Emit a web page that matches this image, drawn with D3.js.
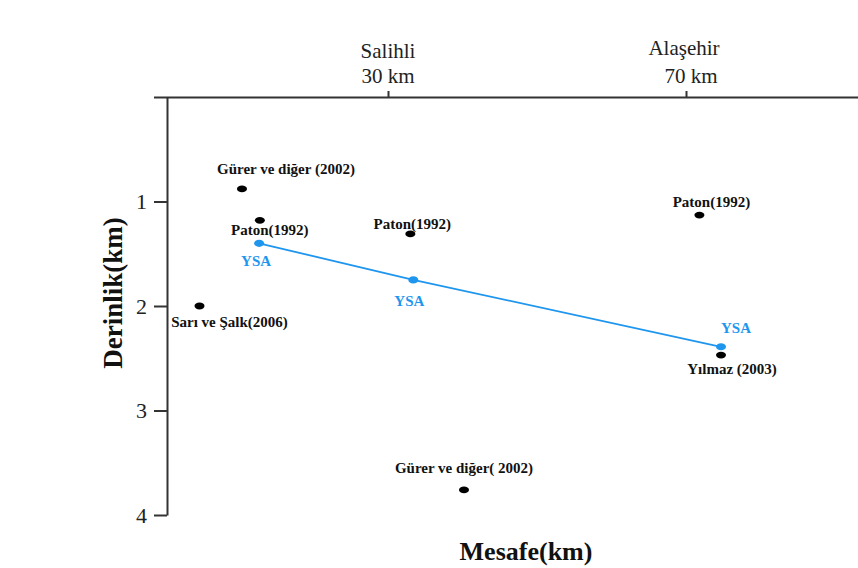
<!DOCTYPE html>
<html>
<head>
<meta charset="utf-8">
<script src="https://cdn.jsdelivr.net/npm/d3@7"></script>
<style>
  html, body { margin: 0; padding: 0; background: #fff; }
  svg { display: block; }
  svg text { font-family: "Liberation Serif", "Times New Roman", serif; }
</style>
</head>
<body>
<svg id="chart" width="858" height="568"></svg>
<script>
// Published depth estimates (distance along profile in km, depth in km)
const refNames = ["Gürer ve diğer (2002)", "Paton(1992)", "Sarı ve Şalk(2006)", "Paton(1992)",
                  "Paton(1992)", "Yılmaz (2003)", "Gürer ve diğer( 2002)"];
const refDistance = [10.4, 12.8, 4.7, 33.0, 71.8, 74.7, 40.2];
const refDepth = [0.88, 1.18, 2.0, 1.31, 1.13, 2.47, 3.76];

// Neural-network (YSA) depth estimates
const ysaNames = ["YSA", "YSA", "YSA"];
const ysaDistance = [12.7, 33.4, 74.7];
const ysaDepth = [1.40, 1.75, 2.39];

// Axis ticks
const depthTicks = [0, 1, 2, 3, 4];
const townTicks = [30, 70];
const townNames = ["Salihli", "Alaşehir"];
const townLabels = ["30 km", "70 km"];

const W = 858, H = 568;
const plotLeft = 167, plotTop = 97, plotBottom = 515;
const axisColor = "#333";
const blue = "#1f96ee";
const serif = "Liberation Serif, Times New Roman, serif";

const x = d3.scaleLinear().domain([30, 70]).range([388, 686]);
const y = d3.scaleLinear().domain([0, 4]).range([plotTop, plotBottom]);

const svg = d3.select("#chart");

// Left depth axis
const yAxis = svg.append("g")
  .attr("transform", `translate(${plotLeft},0)`)
  .call(d3.axisLeft(y).tickValues(depthTicks).tickSize(13).tickSizeOuter(0)
    .tickFormat(d => d === 0 ? "" : d3.format("d")(d)).tickPadding(7))
  .attr("font-family", serif);
yAxis.select(".domain").attr("stroke", axisColor).attr("stroke-width", 2);
yAxis.selectAll(".tick line").attr("stroke", axisColor).attr("stroke-width", 2);
yAxis.selectAll(".tick text").attr("font-size", 22).attr("fill", "#222").attr("dy", "0.34em");

// Top distance axis (town markers)
const xAxis = svg.append("g")
  .attr("transform", `translate(0,${plotTop})`)
  .call(d3.axisTop(x).tickValues(townTicks).tickSize(6).tickSizeOuter(0).tickFormat(""));
xAxis.select(".domain").attr("d", `M${plotLeft},0.5H${W}`)
  .attr("stroke", axisColor).attr("stroke-width", 2);
xAxis.selectAll(".tick line").attr("stroke", axisColor).attr("stroke-width", 2);

const townLayout = [{dx: 0, nameY: 58, distDx: 0}, {dx: -2, nameY: 55, distDx: 5}];
townTicks.forEach((t, i) => {
  const g = svg.append("g").attr("font-family", serif).attr("font-size", 21)
    .attr("fill", "#222").attr("text-anchor", "middle");
  g.append("text").attr("x", x(t) + townLayout[i].dx).attr("y", townLayout[i].nameY).text(townNames[i]);
  g.append("text").attr("x", x(t) + townLayout[i].distDx).attr("y", 83).text(townLabels[i]);
});

// YSA profile line
const ysaPts = ysaDistance.map((d, i) => [x(d), y(ysaDepth[i])]);
svg.append("path")
  .attr("d", d3.line()(ysaPts))
  .attr("fill", "none").attr("stroke", blue).attr("stroke-width", 1.8);

// Reference points
svg.append("g").selectAll("ellipse").data(refDistance).join("ellipse")
  .attr("cx", d => x(d)).attr("cy", (d, i) => y(refDepth[i]))
  .attr("rx", 5).attr("ry", 3.4).attr("fill", "#000");

// YSA points
svg.append("g").selectAll("ellipse").data(ysaDistance).join("ellipse")
  .attr("cx", d => x(d)).attr("cy", (d, i) => y(ysaDepth[i]))
  .attr("rx", 5).attr("ry", 3.6).attr("fill", blue);

// Label offsets from each point (centre x, baseline)
const refOffsets = [[44, -15], [10, 15], [30, 21], [2, -5], [12, -8], [11, 19], [0, -17]];
const ysaOffsets = [[-3, 23], [-4, 26], [15, -14]];

svg.append("g").selectAll("text").data(refNames).join("text")
  .attr("x", (d, i) => x(refDistance[i]) + refOffsets[i][0])
  .attr("y", (d, i) => y(refDepth[i]) + refOffsets[i][1])
  .attr("text-anchor", "middle").attr("font-size", 15).attr("font-weight", "bold")
  .attr("font-family", serif).attr("fill", "#111").text(d => d);

svg.append("g").selectAll("text").data(ysaNames).join("text")
  .attr("x", (d, i) => x(ysaDistance[i]) + ysaOffsets[i][0])
  .attr("y", (d, i) => y(ysaDepth[i]) + ysaOffsets[i][1])
  .attr("text-anchor", "middle").attr("font-size", 15).attr("font-weight", "bold")
  .attr("font-family", serif).attr("fill", blue).text(d => d);

// Axis titles
svg.append("text").attr("x", 526).attr("y", 560).attr("text-anchor", "middle")
  .attr("font-family", serif).attr("font-size", 26).attr("font-weight", "bold")
  .attr("fill", "#111").text("Mesafe(km)");
svg.append("text").attr("transform", "translate(122,293) rotate(-90)").attr("text-anchor", "middle")
  .attr("font-family", serif).attr("font-size", 27).attr("font-weight", "bold")
  .attr("fill", "#111").text("Derinlik(km)");
</script>
</body>
</html>
